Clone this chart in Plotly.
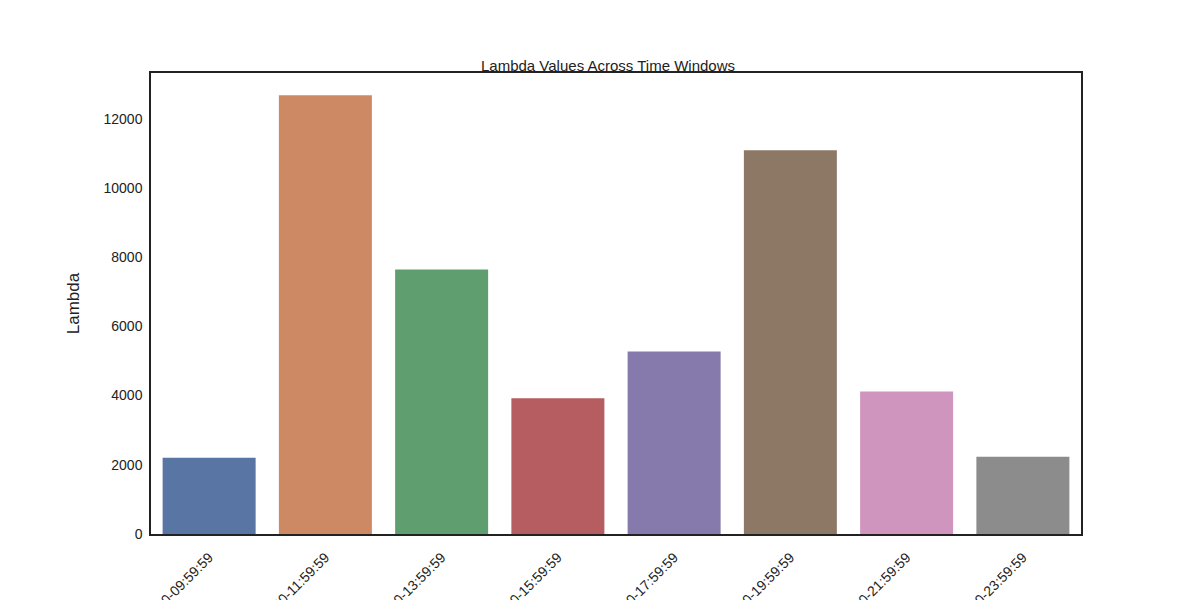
import plotly.graph_objects as go

windows = ["08:00:00-09:59:59", "10:00:00-11:59:59", "12:00:00-13:59:59", "14:00:00-15:59:59",
           "16:00:00-17:59:59", "18:00:00-19:59:59", "20:00:00-21:59:59", "22:00:00-23:59:59"]
lambdas = [2200, 12680, 7640, 3920, 5270, 11090, 4120, 2230]
colors = ["#5975a4", "#cc8963", "#5f9e6e", "#b55d60", "#857aab", "#8d7866", "#d095bf", "#8c8c8c"]

fig = go.Figure(go.Bar(x=windows, y=lambdas, marker_color=colors, marker_line_width=0, width=0.8))

fig.update_layout(
    width=1200, height=600, plot_bgcolor="white", paper_bgcolor="white",
    font=dict(family="Liberation Sans, Arial", size=14, color="#222"),
    title=dict(text="Lambda Values Across Time Windows", x=0.5, xanchor="center", y=0.903, yanchor="middle",
               font=dict(size=15)),
    margin=dict(l=143, r=127, t=65, b=74),
    showlegend=False,
)
fig.update_xaxes(tickangle=-45, showline=True, linecolor="#222", linewidth=1.5, mirror=True,
                 ticks="", automargin=False, range=[-0.5, 7.5], ticklabelstandoff=8)
fig.update_yaxes(title_text="Lambda", title_standoff=20, range=[0, 13320],
                 tickvals=[0, 2000, 4000, 6000, 8000, 10000, 12000],
                 tickformat="d", showgrid=False, showline=True, linecolor="#222", linewidth=1.5, mirror=True,
                 ticks="", zeroline=False, automargin=False, ticklabelstandoff=4)

fig.write_html("out.html")
